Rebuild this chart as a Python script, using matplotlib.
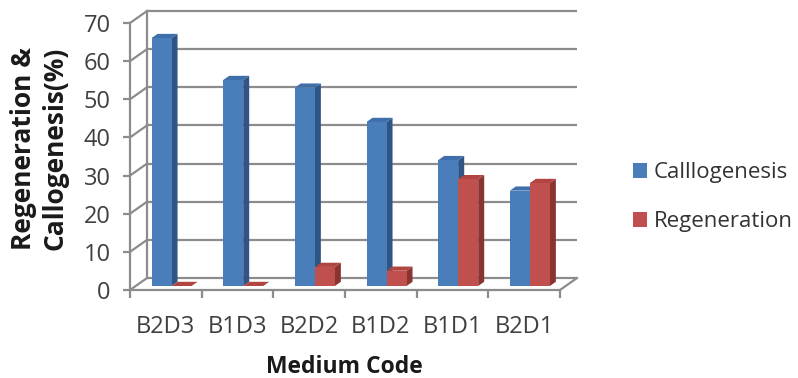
import matplotlib.pyplot as plt
from matplotlib.patches import Polygon
import numpy as np

# data
medium_codes = ["B2D3", "B1D3", "B2D2", "B1D2", "B1D1", "B2D1"]
callogenesis = [65, 54, 52, 43, 33, 25]
regeneration = [0, 0, 5, 4, 28, 27]
y_ticks = [0, 10, 20, 30, 40, 50, 60, 70]

plt.rcParams["font.family"] = ["Open Sans", "DejaVu Sans"]

fig = plt.figure(figsize=(7.98, 3.78), dpi=100)
ax = fig.add_axes([130 / 798, 88 / 378, 430 / 798, 267 / 378])
ax.set_xlim(-0.5, 5.5)
ax.set_ylim(0, 70)

# pixel -> data scale for the fake 3d depth
px_x = 6 / 430
px_y = 70 / 267
ddx, ddy = 17 * px_x, 12 * px_y        # full floor depth
sx, sy = 5.7 * px_x, 4 * px_y          # bar front plane offset
bx, by = 6 * px_x, 4.2 * px_y          # bar depth
w = 20 * px_x

grid_c = "#8c8c8c"
lw = 1.6

# back wall grid + left wall slants
for v in y_ticks:
    ax.plot([-0.5 + ddx, 5.5 + ddx], [v + ddy, v + ddy], color=grid_c, lw=lw,
            clip_on=False, zorder=1, solid_capstyle="butt")
    ax.plot([-0.5, -0.5 + ddx], [v, v + ddy], color=grid_c, lw=lw,
            clip_on=False, zorder=1)
ax.plot([-0.5 + ddx, -0.5 + ddx], [ddy, 70 + ddy], color=grid_c, lw=lw,
        clip_on=False, zorder=1)
ax.plot([5.5, 5.5 + ddx], [0, ddy], color=grid_c, lw=lw, clip_on=False, zorder=1)

x = np.arange(len(medium_codes))


def bar3d(xs, vals, colors, z):
    front, side, top = colors
    cont = ax.bar(xs, vals, width=w, bottom=sy, align="edge", color=front,
                  zorder=z + 0.2, linewidth=0)
    for x0, v in zip(xs, vals):
        x1 = x0 + w
        y0, y1 = sy, sy + v
        ax.add_patch(Polygon([(x1, y0), (x1 + bx, y0 + by), (x1 + bx, y1 + by), (x1, y1)],
                             closed=True, facecolor=side, lw=0, zorder=z))
        ax.add_patch(Polygon([(x0, y1), (x0 + bx, y1 + by), (x1 + bx, y1 + by), (x1, y1)],
                             closed=True, facecolor=top, lw=0, zorder=z + 0.1))
    return cont


b1 = bar3d(x - w + sx, callogenesis, ("#4a7ebb", "#2f5585", "#3f6fab"), 2)
b2 = bar3d(x + sx, regeneration, ("#c0504d", "#8a3432", "#b04542"), 3)

# axes lines and ticks
for s in ["top", "right"]:
    ax.spines[s].set_visible(False)
for s in ["left", "bottom"]:
    ax.spines[s].set_color(grid_c)
    ax.spines[s].set_linewidth(lw)
    ax.spines[s].set_zorder(5)

ax.set_yticks(y_ticks)
ax.tick_params(axis="y", length=5, width=lw, color=grid_c, labelsize=17,
               labelcolor="#404040", pad=9)
ax.set_xticks(x)
ax.set_xticklabels(medium_codes)
ax.set_xticks(np.arange(-0.5, 6, 1), minor=True)
ax.tick_params(axis="x", which="major", length=0, labelsize=17,
               labelcolor="#404040", pad=18)
ax.tick_params(axis="x", which="minor", length=6, width=lw, color=grid_c)

fig.text(344 / 798, 1 - 367 / 378, "Medium Code", ha="center", va="center",
         fontsize=16.5, fontweight="bold", color="#1a1a1a")
fig.text(39 / 798, 1 - 148 / 378, "Regeneration &\nCallogenesis(%)", ha="center",
         va="center", rotation=90, fontsize=19, fontweight="bold",
         color="#1a1a1a", linespacing=1.2)

fig.legend([b1, b2], ["Calllogenesis", "Regeneration"], loc="center left",
           bbox_to_anchor=(624 / 798, 1 - 197 / 378), frameon=False,
           fontsize=16, handlelength=0.65, handleheight=0.65, handletextpad=0.3,
           labelspacing=1.25, labelcolor="#333333", borderaxespad=0)

fig.savefig("out.png", dpi=100)
